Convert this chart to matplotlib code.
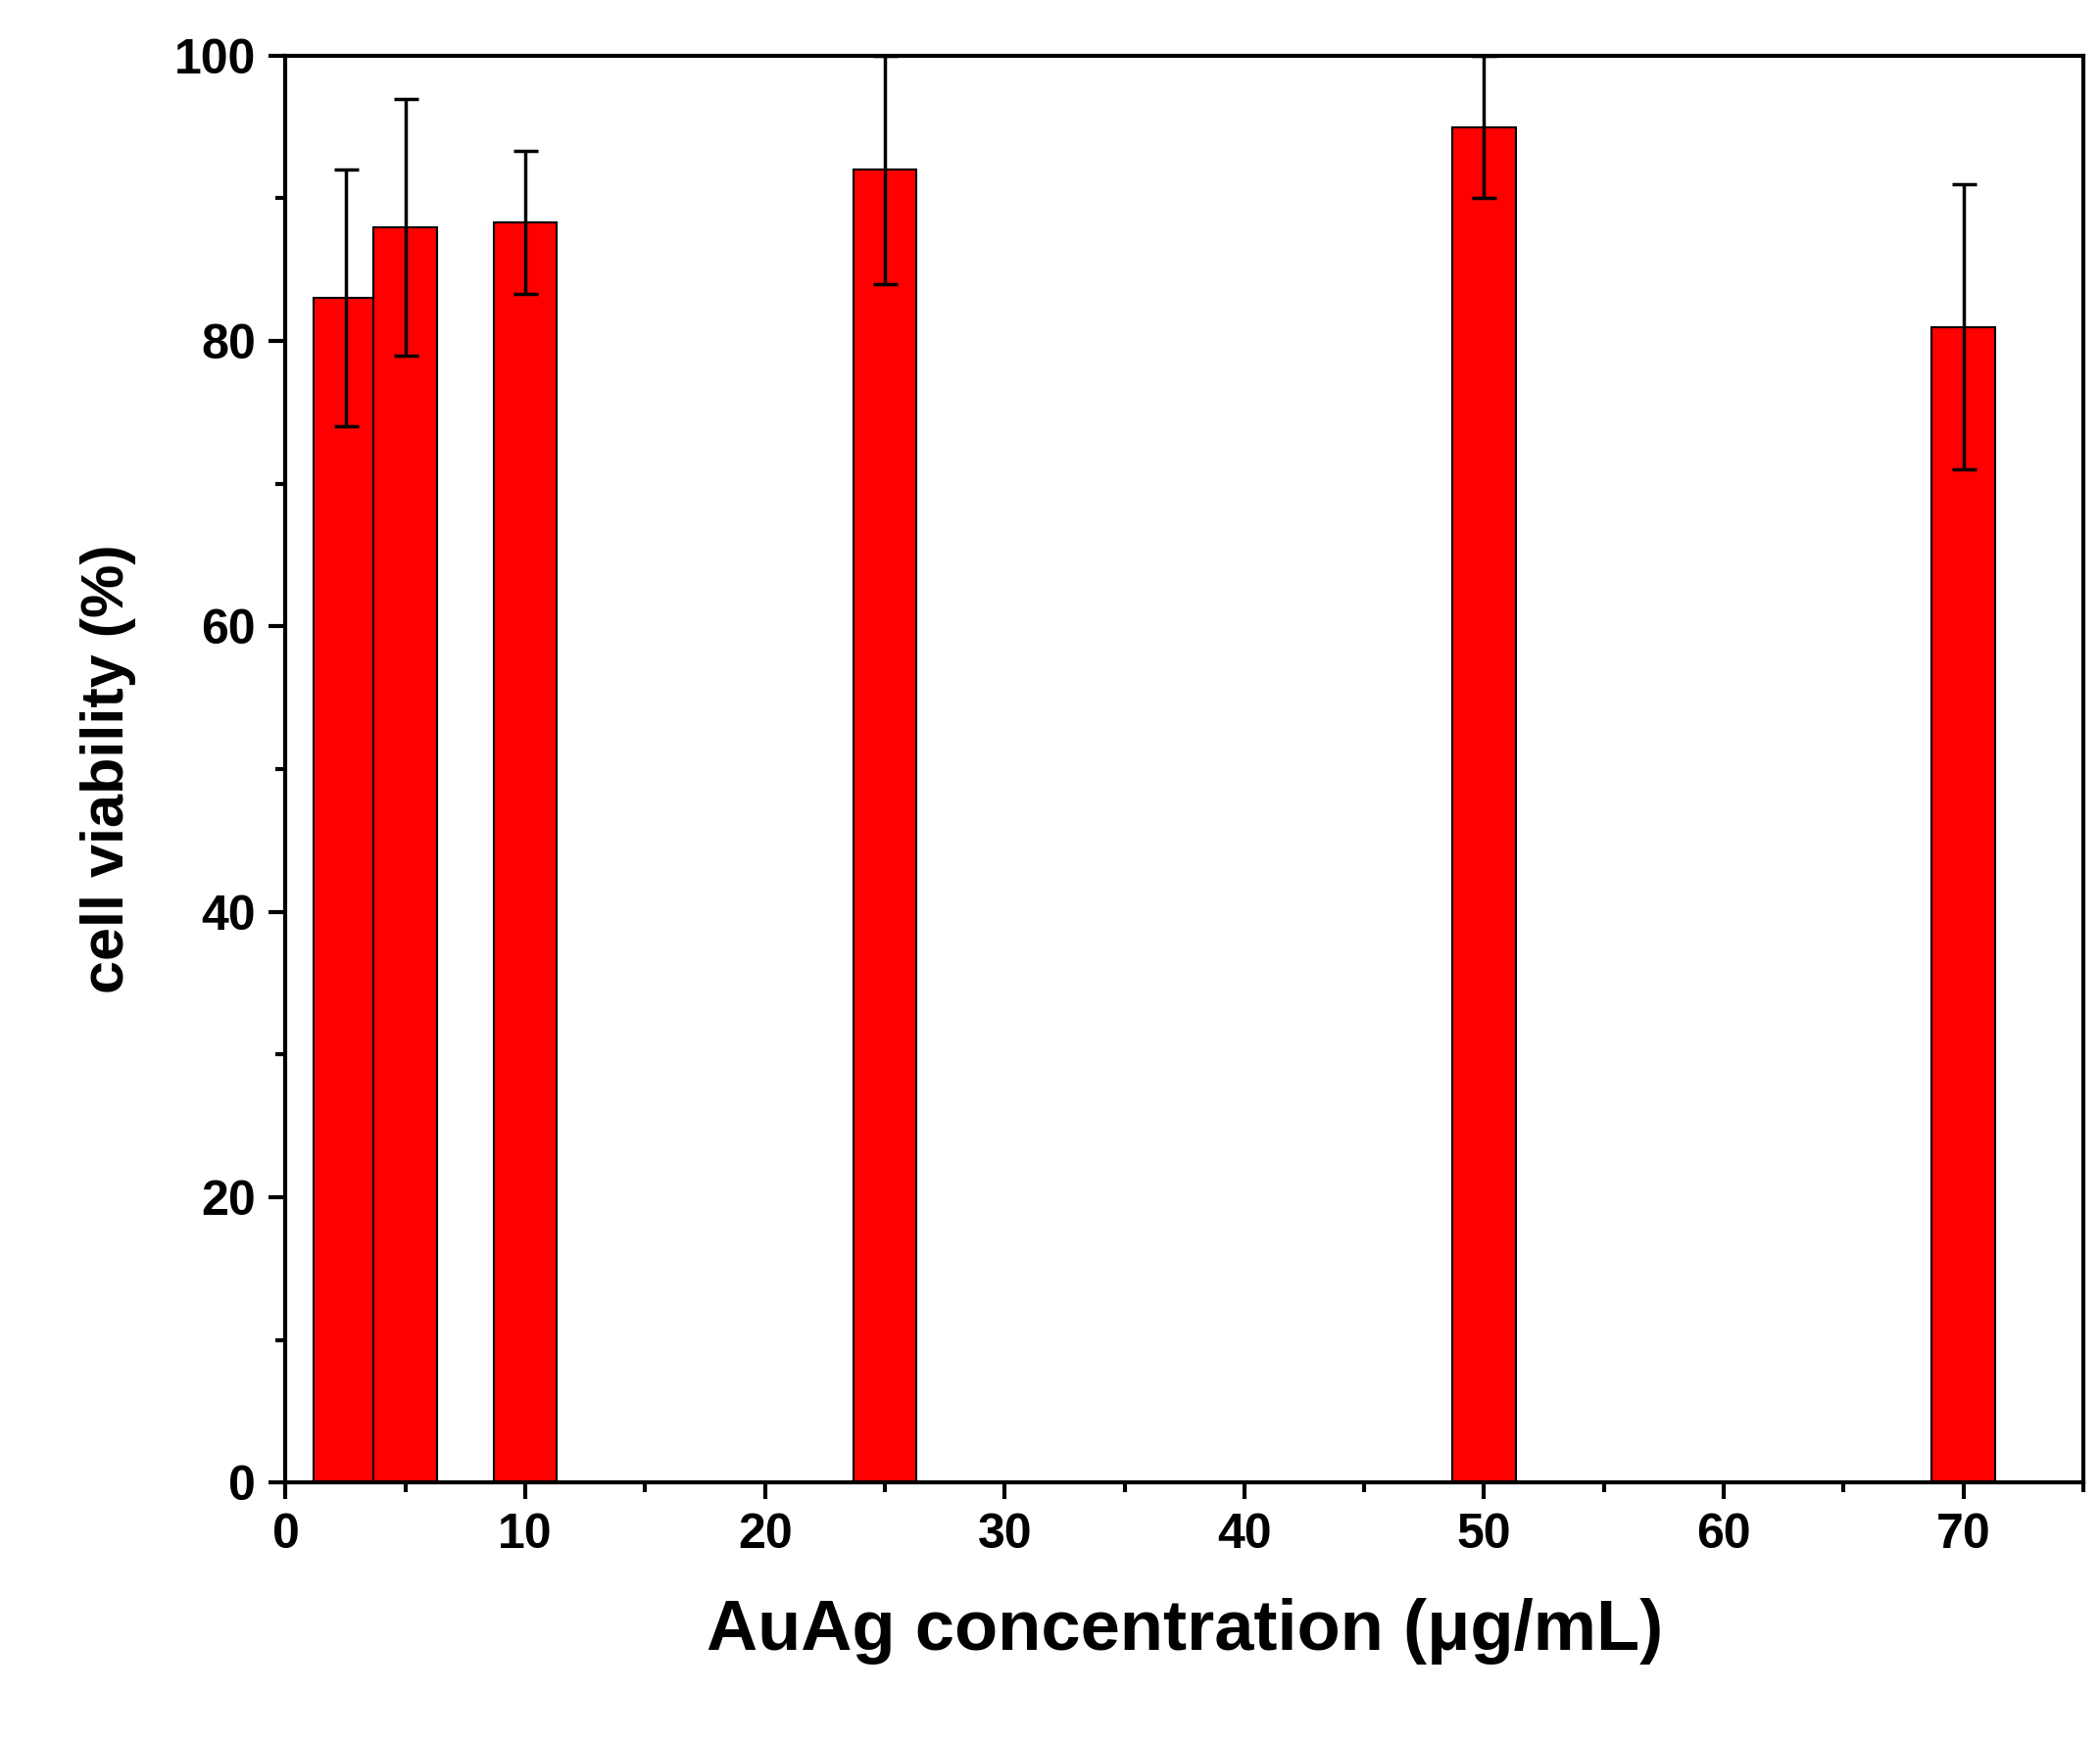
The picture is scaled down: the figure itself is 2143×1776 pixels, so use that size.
import matplotlib
matplotlib.use("Agg")
import matplotlib.pyplot as plt
from matplotlib.ticker import MultipleLocator

conc = [2.5, 5, 10, 25, 50, 70]
viability = [83, 88, 88.3, 92, 95, 81]
err = [9, 9, 5, 8, 5, 10]

plt.rcParams["font.family"] = ["Liberation Sans", "DejaVu Sans"]
plt.rcParams["font.weight"] = "bold"

fig = plt.figure(figsize=(21.43, 17.76), dpi=100)
ax = fig.add_axes([0.136, 0.148, 0.856, 0.82])

ax.bar(conc, viability, width=2.65, color="#ff0000", edgecolor="black", linewidth=1.5,
       yerr=err, error_kw=dict(ecolor="black", elinewidth=2.5, capsize=9, capthick=2.5))

ax.set_xlim(0, 75)
ax.set_ylim(0, 100)
ax.xaxis.set_major_locator(MultipleLocator(10))
ax.xaxis.set_minor_locator(MultipleLocator(5))
ax.yaxis.set_major_locator(MultipleLocator(20))
ax.yaxis.set_minor_locator(MultipleLocator(10))
ax.tick_params(which="major", direction="out", length=12, width=3, labelsize=36, pad=10)
ax.tick_params(which="minor", direction="out", length=7, width=3)
for s in ax.spines.values():
    s.set_linewidth(3)
for lbl in ax.get_xticklabels() + ax.get_yticklabels():
    lbl.set_fontweight("bold")

ax.set_xlabel("AuAg concentration (\u03bcg/mL)", fontsize=52, fontweight="bold", labelpad=30)
ax.set_ylabel("cell viability (%)", fontsize=44, fontweight="bold", labelpad=28)

fig.savefig("out.png", dpi=100)
